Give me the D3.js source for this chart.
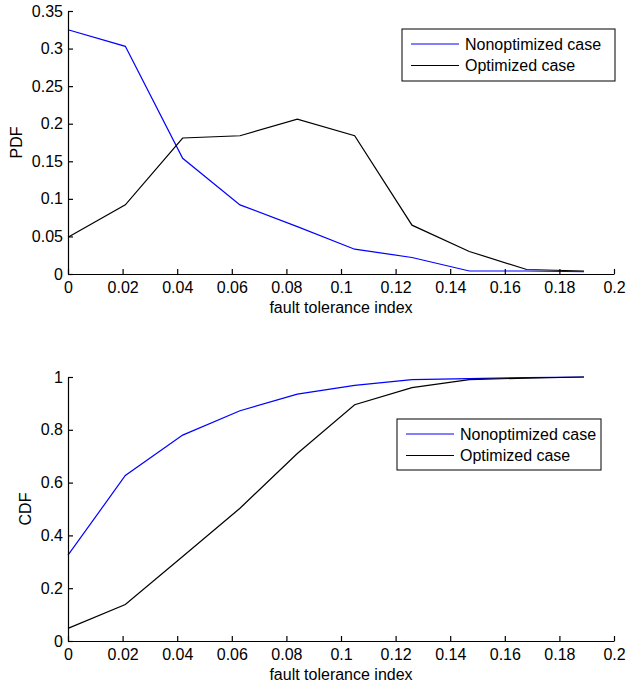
<!DOCTYPE html>
<html>
<head>
<meta charset="utf-8">
<script src="https://cdn.jsdelivr.net/npm/d3@7"></script>
<style>
  body { margin: 0; background: #fff; }
  svg { display: block; font-family: "Liberation Sans", Arial, sans-serif; }
  .axis path, .axis line { stroke: #000; stroke-width: 1.2; }
  .axis text { font-size: 16px; fill: #000; }
  .label { font-size: 16px; fill: #000; }
</style>
</head>
<body>
<svg id="chart"></svg>
<script>
// ─── Data ─────────────────────────────────────────────────────────────────────
const faultIndex = [0, 0.021, 0.042, 0.063, 0.084, 0.105, 0.126, 0.147, 0.168, 0.189];
const pdfNonopt  = [0.325, 0.303, 0.154, 0.092, 0.063, 0.033, 0.022, 0.004, 0.004, 0.003];
const pdfOpt     = [0.049, 0.092, 0.181, 0.184, 0.206, 0.184, 0.065, 0.030, 0.006, 0.004];
const cdfNonopt  = [0.325, 0.627, 0.780, 0.872, 0.935, 0.968, 0.990, 0.994, 0.998, 1.0];
const cdfOpt     = [0.048, 0.138, 0.320, 0.503, 0.710, 0.895, 0.960, 0.990, 0.996, 1.0];
const seriesNames = ["Nonoptimized case", "Optimized case"];
const seriesColors = ["#0000ff", "#000000"];
const xTicks = [0, 0.02, 0.04, 0.06, 0.08, 0.1, 0.12, 0.14, 0.16, 0.18, 0.2];
const pdfTicks = [0, 0.05, 0.1, 0.15, 0.2, 0.25, 0.3, 0.35];
const cdfTicks = [0, 0.2, 0.4, 0.6, 0.8, 1];

// ─── Layout ───────────────────────────────────────────────────────────────────
const W = 627, H = 687;
const svg = d3.select("#chart").attr("width", W).attr("height", H);

const panels = [
  { top: 11, bottom: 274, domain: [0, 0.35], ticks: pdfTicks, ylabel: "PDF", labelX: 22,
    series: [pdfNonopt, pdfOpt], legend: { x: 402, y: 29, w: 213, h: 52 } },
  { top: 377, bottom: 641, domain: [0, 1], ticks: cdfTicks, ylabel: "CDF", labelX: 31,
    series: [cdfNonopt, cdfOpt], legend: { x: 397, y: 419, w: 204, h: 51 } }
];

const x = d3.scaleLinear().domain([0, 0.2]).range([68, 614]);

panels.forEach(p => {
  const y = d3.scaleLinear().domain(p.domain).range([p.bottom, p.top]);
  const g = svg.append("g");

  // Lines
  p.series.forEach((vals, i) => {
    const line = d3.line().x((d, j) => x(faultIndex[j])).y(d => y(d));
    g.append("path")
      .datum(vals)
      .attr("fill", "none")
      .attr("stroke", seriesColors[i])
      .attr("stroke-width", 1.2)
      .attr("d", line);
  });

  // Axes (ticks inward, MATLAB-like)
  g.append("g")
    .attr("class", "axis")
    .attr("transform", `translate(0,${p.bottom})`)
    .call(d3.axisBottom(x).tickValues(xTicks).tickFormat(d3.format("~g"))
      .tickSizeInner(-5).tickSizeOuter(0).tickPadding(8));

  g.append("g")
    .attr("class", "axis")
    .attr("transform", `translate(68,0)`)
    .call(d3.axisLeft(y).tickValues(p.ticks).tickFormat(d3.format("~g"))
      .tickSizeInner(-5).tickSizeOuter(0).tickPadding(5));

  g.selectAll(".axis .domain").attr("fill", "none");

  // Axis labels
  g.append("text")
    .attr("class", "label")
    .attr("x", (x.range()[0] + x.range()[1]) / 2)
    .attr("y", p.bottom + 39)
    .attr("text-anchor", "middle")
    .text("fault tolerance index");

  g.append("text")
    .attr("class", "label")
    .attr("transform", `translate(${p.labelX},${(p.top + p.bottom) / 2}) rotate(-90)`)
    .attr("text-anchor", "middle")
    .text(p.ylabel);

  // Legend
  const L = p.legend;
  const lg = g.append("g").attr("transform", `translate(${L.x},${L.y})`);
  lg.append("rect")
    .attr("width", L.w).attr("height", L.h)
    .attr("fill", "#fff").attr("stroke", "#000").attr("stroke-width", 1);
  seriesNames.forEach((name, i) => {
    const ry = 15 + i * 21.5;
    lg.append("line")
      .attr("x1", 9).attr("x2", 57).attr("y1", ry).attr("y2", ry)
      .attr("stroke", seriesColors[i]).attr("stroke-width", 1.2);
    lg.append("text")
      .attr("class", "label")
      .attr("x", 63).attr("y", ry + 5.5)
      .text(name);
  });
});
</script>
</body>
</html>
